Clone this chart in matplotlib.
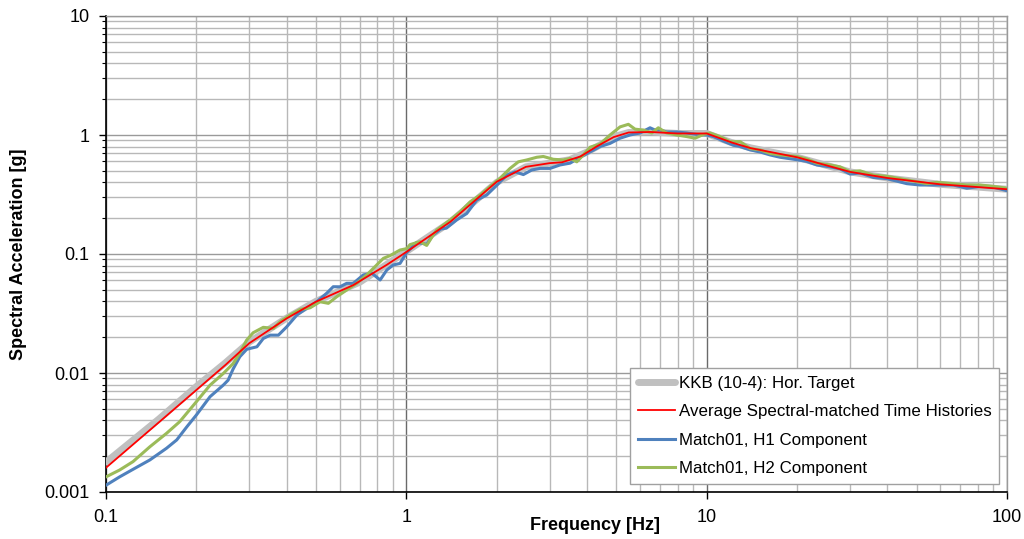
import matplotlib
matplotlib.use("Agg")
import matplotlib.pyplot as plt
from matplotlib.ticker import LogLocator, FixedLocator, FixedFormatter, NullFormatter

plt.rcParams['font.family'] = ['Liberation Sans', 'DejaVu Sans']

# ---- data ----
target_f = [0.1, 0.15, 0.2, 0.25, 0.3, 0.4, 0.5, 0.7, 1.0, 1.4, 2.0, 2.5, 3.0, 3.5, 4.0,
            5.0, 5.5, 6.5, 8.0, 10.0, 12.0, 14.0, 20.0, 30.0, 40.0, 60.0, 100.0]
target_sa = [0.00178, 0.0041, 0.0077, 0.0122, 0.0182, 0.029, 0.040, 0.058, 0.105, 0.185,
             0.40, 0.54, 0.58, 0.62, 0.72, 0.98, 1.05, 1.06, 1.03, 1.03, 0.87, 0.78,
             0.65, 0.49, 0.435, 0.385, 0.35]

avg_f = [0.1, 0.15, 0.2, 0.25, 0.3, 0.4, 0.5, 0.666, 0.86, 1.0, 1.4, 2.0, 2.5, 3.0, 3.3,
         3.8, 4.3, 4.9, 5.5, 6.5, 8.0, 10.0, 12.2, 14.0, 20.0, 30.0, 40.0, 60.0, 100.0]
avg_sa = [0.0016, 0.00385, 0.0072, 0.0117, 0.0178, 0.0288, 0.0397, 0.0548, 0.081, 0.104,
          0.186, 0.405, 0.54, 0.58, 0.59, 0.66, 0.80, 0.96, 1.05, 1.06, 1.03, 1.03, 0.86,
          0.776, 0.65, 0.49, 0.435, 0.385, 0.35]

h1_f = [0.1, 0.111, 0.123, 0.140, 0.159, 0.172, 0.186, 0.20, 0.222, 0.246, 0.255, 0.265,
        0.279, 0.294, 0.302, 0.318, 0.334, 0.352, 0.375, 0.40, 0.432, 0.466, 0.503, 0.543,
        0.571, 0.601, 0.633, 0.666, 0.719, 0.767, 0.818, 0.861, 0.905, 0.953, 1.003, 1.083,
        1.17, 1.22, 1.30, 1.36, 1.47, 1.589, 1.716, 1.852, 2.0, 2.159, 2.301, 2.453, 2.616,
        2.788, 3.009, 3.249, 3.509, 3.788, 4.09, 4.416, 4.768, 5.148, 5.558, 6.0, 6.478,
        6.732, 6.994, 7.363, 7.95, 8.583, 9.27, 10.0, 10.53, 11.36, 12.27, 12.92, 13.95,
        15.06, 16.26, 17.56, 19.95, 21.54, 23.26, 25.76, 27.81, 30.03, 32.42, 35.91, 39.79,
        46.38, 51.35, 56.87, 66.31, 73.47, 81.37, 90.09, 100.0]
h1_sa = [0.00114, 0.00134, 0.00155, 0.00186, 0.00233, 0.00274, 0.00354, 0.00444, 0.00632,
         0.00793, 0.0087, 0.0108, 0.0137, 0.0158, 0.0161, 0.0166, 0.0195, 0.0208, 0.0208,
         0.0245, 0.0307, 0.035, 0.0397, 0.0468, 0.0531, 0.053, 0.0567, 0.0567, 0.0667, 0.069,
         0.0605, 0.0734, 0.0809, 0.0834, 0.103, 0.125, 0.121, 0.142, 0.162, 0.165, 0.193,
         0.219, 0.284, 0.313, 0.378, 0.46, 0.49, 0.465, 0.508, 0.524, 0.524, 0.56, 0.58,
         0.65, 0.72, 0.80, 0.85, 0.94, 1.0, 1.04, 1.15, 1.10, 1.10, 1.06, 1.06, 1.04, 1.01,
         1.0, 0.97, 0.89, 0.82, 0.80, 0.75, 0.72, 0.68, 0.65, 0.62, 0.60, 0.56, 0.54, 0.52,
         0.47, 0.48, 0.44, 0.43, 0.39, 0.38, 0.38, 0.38, 0.357, 0.37, 0.365, 0.34]

h2_f = [0.1, 0.111, 0.123, 0.140, 0.159, 0.176, 0.20, 0.222, 0.246, 0.265, 0.279, 0.294,
        0.309, 0.334, 0.361, 0.380, 0.41, 0.443, 0.478, 0.516, 0.55, 0.586, 0.633, 0.684,
        0.738, 0.797, 0.839, 0.883, 0.953, 1.003, 1.029, 1.111, 1.169, 1.23, 1.262, 1.398,
        1.51, 1.63, 1.76, 1.90, 2.051, 2.215, 2.36, 2.517, 2.718, 2.859, 3.087, 3.332, 3.509,
        3.694, 3.885, 4.09, 4.416, 4.768, 5.148, 5.487, 5.775, 6.154, 6.564, 6.904, 7.363,
        7.95, 8.583, 9.151, 9.75, 10.26, 11.08, 11.96, 12.92, 13.95, 15.06, 16.26, 17.56,
        19.95, 21.54, 23.26, 25.76, 27.81, 30.03, 32.42, 35.91, 39.79, 44.06, 48.79, 54.06,
        58.37, 66.31, 73.47, 81.37, 90.09, 100.0]
h2_sa = [0.00134, 0.00153, 0.0018, 0.0024, 0.00311, 0.0039, 0.00574, 0.0079, 0.00993,
         0.0120, 0.0147, 0.0189, 0.0218, 0.0242, 0.0237, 0.027, 0.0307, 0.0343, 0.0353,
         0.0397, 0.0385, 0.0437, 0.0498, 0.0567, 0.0667, 0.0809, 0.092, 0.097, 0.108, 0.111,
         0.12, 0.127, 0.118, 0.145, 0.159, 0.193, 0.226, 0.274, 0.313, 0.369, 0.433, 0.524,
         0.595, 0.617, 0.65, 0.66, 0.625, 0.617, 0.636, 0.595, 0.68, 0.79, 0.84, 1.0, 1.17,
         1.23, 1.12, 1.10, 1.04, 1.15, 1.04, 1.0, 0.97, 0.94, 1.01, 1.04, 0.97, 0.88, 0.88,
         0.77, 0.75, 0.70, 0.68, 0.66, 0.63, 0.58, 0.56, 0.54, 0.49, 0.50, 0.46, 0.45, 0.43,
         0.41, 0.39, 0.40, 0.39, 0.38, 0.38, 0.37, 0.357]

labels = ["KKB (10-4): Hor. Target",
          "Average Spectral-matched Time Histories",
          "Match01, H1 Component",
          "Match01, H2 Component"]

x_ticks = [0.1, 1, 10, 100]
x_ticklabels = ["0.1", "1", "10", "100"]
y_ticks = [0.001, 0.01, 0.1, 1, 10]
y_ticklabels = ["0.001", "0.01", "0.1", "1", "10"]

# ---- figure ----
fig = plt.figure(figsize=(10.24, 5.39), dpi=100)
ax = fig.add_axes([106/1024, 1 - 492/539, (1007-106)/1024, (492-16)/539])
ax.set_xscale('log')
ax.set_yscale('log')
ax.set_xlim(0.1, 100)
ax.set_ylim(0.001, 10)

ax.plot(target_f, target_sa, color='#c0c0c0', lw=5, solid_capstyle='round', label=labels[0], zorder=3)
ax.plot(h1_f, h1_sa, color='#4f81bd', lw=2.2, label=labels[2], zorder=4)
ax.plot(h2_f, h2_sa, color='#9bbb59', lw=2.2, label=labels[3], zorder=5)
ax.plot(avg_f, avg_sa, color='#ff0000', lw=1.3, label=labels[1], zorder=6)

ax.xaxis.set_major_locator(FixedLocator(x_ticks))
ax.xaxis.set_major_formatter(FixedFormatter(x_ticklabels))
ax.yaxis.set_major_locator(FixedLocator(y_ticks))
ax.yaxis.set_major_formatter(FixedFormatter(y_ticklabels))
ax.xaxis.set_minor_locator(LogLocator(base=10, subs=range(2, 10)))
ax.yaxis.set_minor_locator(LogLocator(base=10, subs=range(2, 10)))
ax.xaxis.set_minor_formatter(NullFormatter())
ax.yaxis.set_minor_formatter(NullFormatter())

ax.grid(which='minor', color='#b8b8b8', lw=1.0, zorder=0)
ax.grid(which='major', axis='y', color='#9a9a9a', lw=1.0, zorder=0)
ax.grid(which='major', axis='x', color='#6a6a6a', lw=1.0, zorder=0)
ax.set_axisbelow(True)

ax.tick_params(which='major', axis='y', direction='out', length=5, width=1, labelsize=13, pad=7)
ax.tick_params(which='major', axis='x', direction='out', length=5, width=1, labelsize=13, pad=7)
ax.tick_params(which='minor', axis='y', direction='out', length=3, width=0.8)
ax.tick_params(which='minor', axis='x', length=0)

for s in ['left', 'bottom']:
    ax.spines[s].set_color('black')
    ax.spines[s].set_linewidth(1.2)
for s in ['top', 'right']:
    ax.spines[s].set_color('#9a9a9a')
    ax.spines[s].set_linewidth(1.0)

ax.set_xlabel("Frequency [Hz]", fontsize=13, fontweight='bold')
ax.set_ylabel("Spectral Acceleration [g]", fontsize=13, fontweight='bold')
ax.xaxis.set_label_coords(0.543, -0.052)
ax.yaxis.set_label_coords(-0.0877, 0.5)

handles, labs = ax.get_legend_handles_labels()
order = [labs.index(l) for l in labels]
leg = ax.legend([handles[i] for i in order], [labs[i] for i in order],
                loc='lower right', bbox_to_anchor=(0.991, 0.017), borderaxespad=0,
                fontsize=12.2, frameon=True, fancybox=False, framealpha=1,
                edgecolor='#a0a0a0', handlelength=2.2, handletextpad=0.2,
                labelspacing=0.8, borderpad=0.45)
leg.get_frame().set_linewidth(1.0)
leg.set_zorder(10)

fig.savefig("out.png", dpi=100)
